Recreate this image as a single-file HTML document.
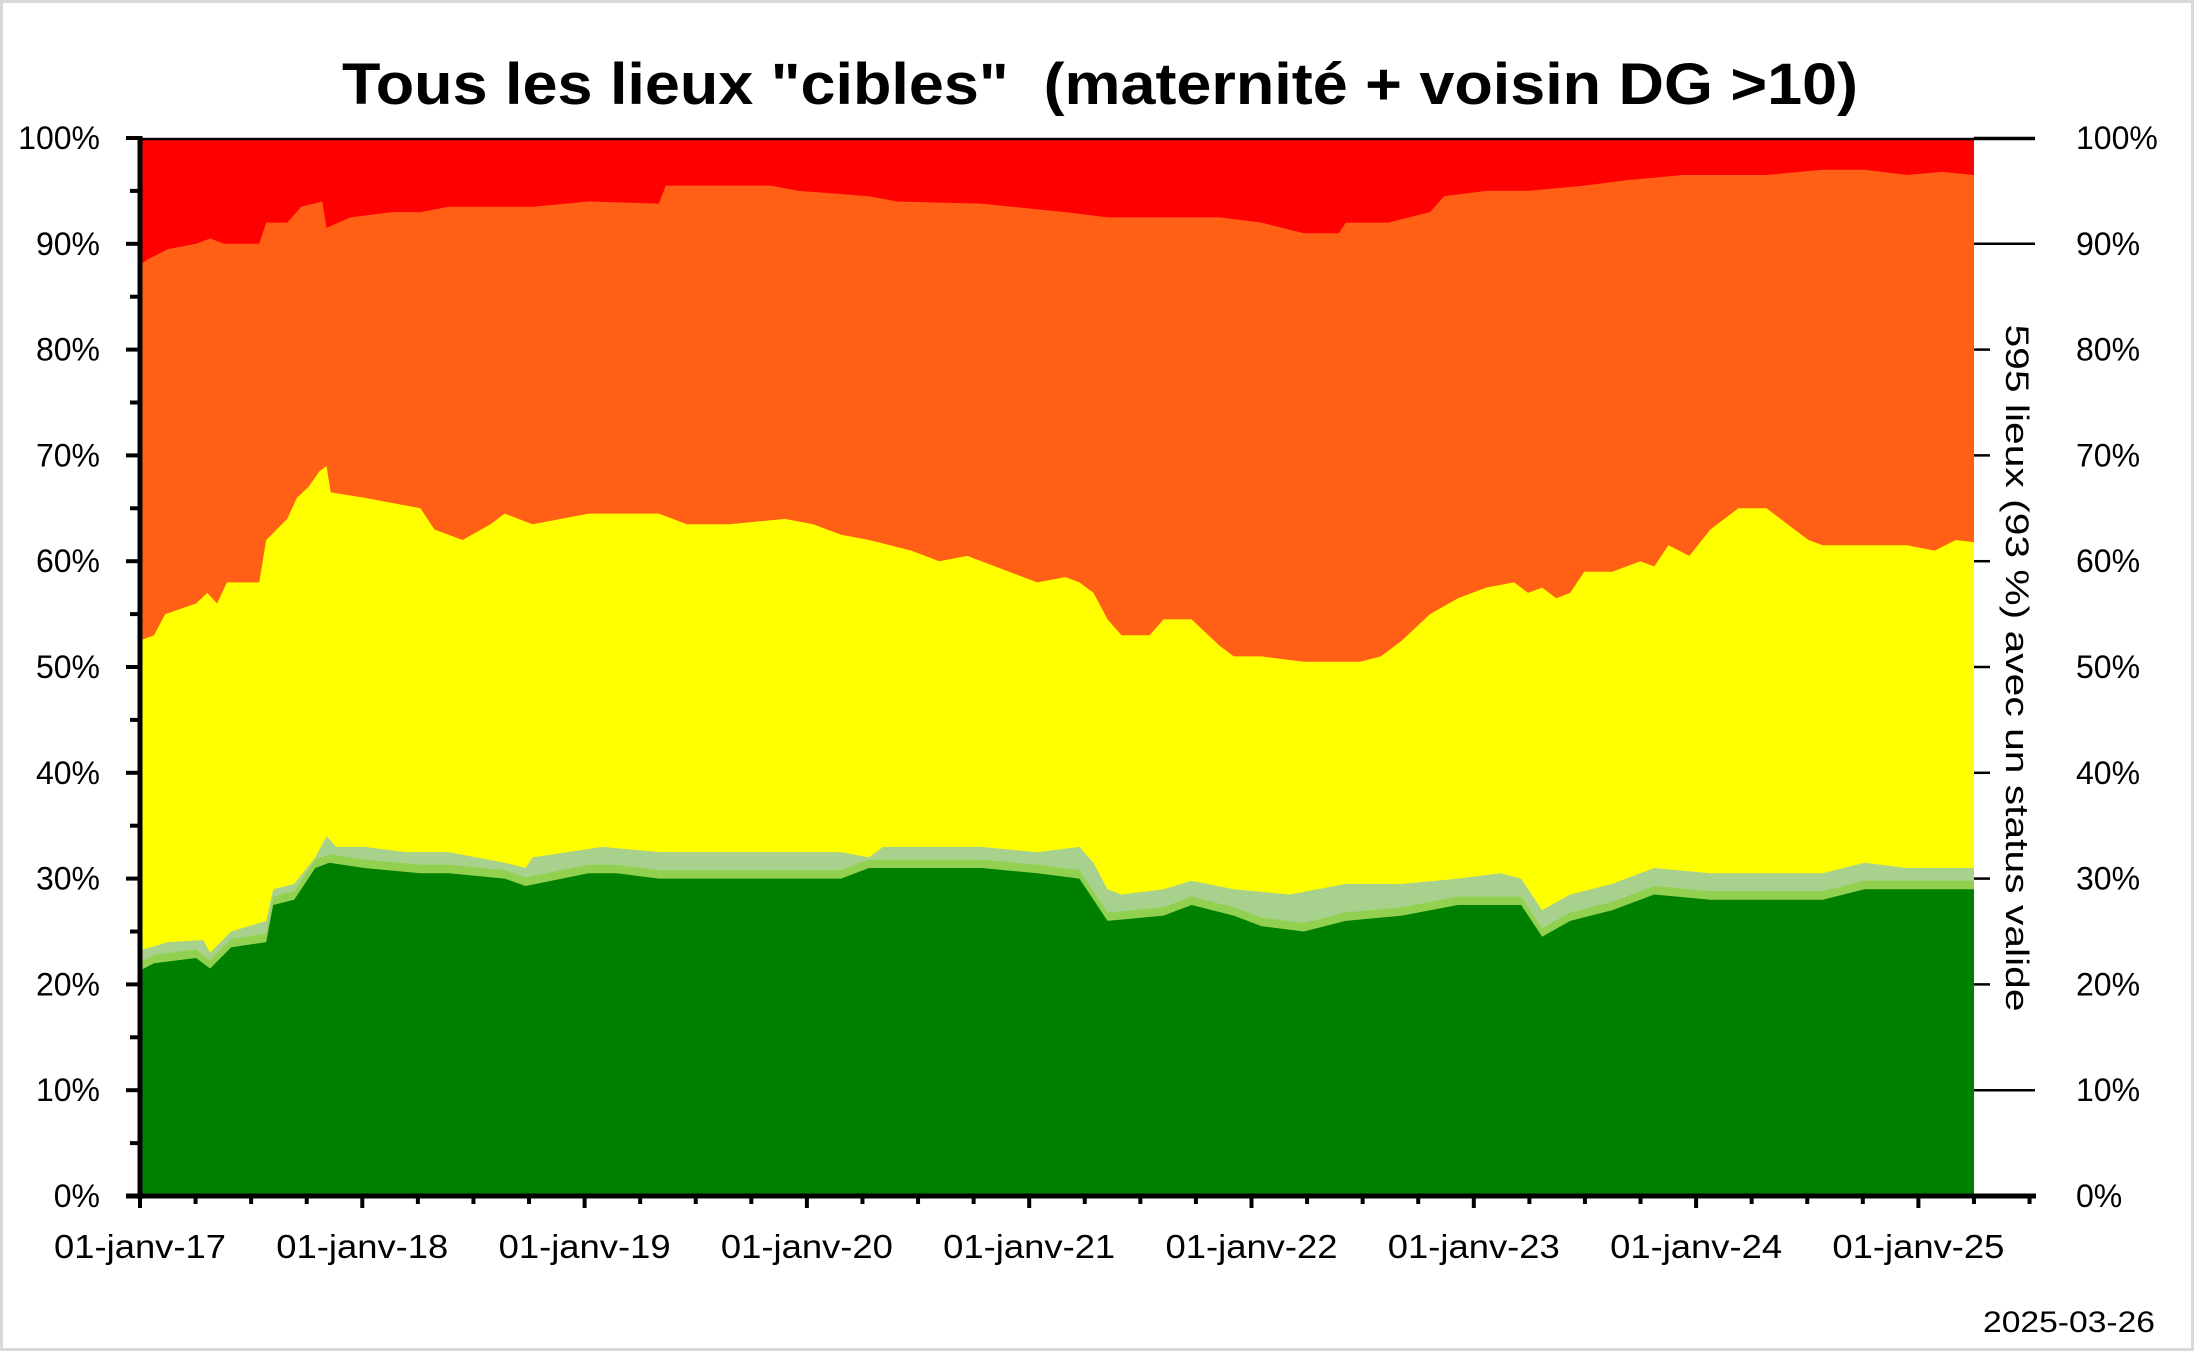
<!DOCTYPE html>
<html><head><meta charset="utf-8"><style>
html,body{margin:0;padding:0;background:#fff}
svg{display:block}
text{font-family:"Liberation Sans",sans-serif;fill:#000}
</style></head><body>
<svg id="s" width="2197" height="1353" viewBox="0 0 2197 1353" xmlns="http://www.w3.org/2000/svg">
<rect x="1.5" y="1.5" width="2191" height="1348" fill="#fff" stroke="#d9d9d9" stroke-width="3"/>
<g id="areas"></g>
<g id="axes"></g>
<text x="1100" y="104" text-anchor="middle" font-size="58" font-weight="bold" textLength="1516" lengthAdjust="spacingAndGlyphs" xml:space="preserve">Tous les lieux "cibles"&#160; (maternité + voisin DG &gt;10)</text>
<text x="2155" y="1332" text-anchor="end" font-size="30" textLength="172" lengthAdjust="spacingAndGlyphs">2025-03-26</text>
<text transform="translate(2006,668) rotate(90)" text-anchor="middle" font-size="32" textLength="687" lengthAdjust="spacingAndGlyphs">595 lieux (93 %) avec un status valide</text>
</svg>
<script>
const NS="http://www.w3.org/2000/svg";
const X=sx=>140+(sx-100)*1834/1308, Y=p=>1196-p*10.58;
const red=[[100,88],[105,88.5],[120,89.5],[140,90],[150,90.5],[160,90],[185,90],[190,92],[205,92],[215,93.5],[230,94],[233,91.5],[250,92.5],[280,93],[300,93],[320,93.5],[380,93.5],[420,94],[470,93.8],[475,95.5],[550,95.5],[570,95],[620,94.5],[640,94],[700,93.8],[760,93],[790,92.5],[870,92.5],[900,92],[930,91],[955,91],[960,92],[990,92],[1020,93],[1030,94.5],[1060,95],[1090,95],[1130,95.5],[1160,96],[1200,96.5],[1260,96.5],[1300,97],[1330,97],[1360,96.5],[1385,96.8],[1408,96.5]];
const orange=[[100,52.5],[110,53],[118,55],[140,56],[148,57],[155,56],[162,58],[185,58],[190,62],[205,64],[212,66],[220,67],[228,68.5],[233,69],[236,66.5],[260,66],[280,65.5],[300,65],[310,63],[330,62],[350,63.5],[360,64.5],[380,63.5],[420,64.5],[470,64.5],[490,63.5],[520,63.5],[560,64],[580,63.5],[600,62.5],[620,62],[650,61],[670,60],[690,60.5],[710,59.5],[740,58],[760,58.5],[770,58],[780,57],[790,54.5],[800,53],[820,53],[830,54.5],[850,54.5],[870,52],[880,51],[900,51],[930,50.5],[970,50.5],[985,51],[1000,52.5],[1020,55],[1040,56.5],[1060,57.5],[1080,58],[1090,57],[1100,57.5],[1110,56.5],[1120,57],[1130,59],[1150,59],[1170,60],[1180,59.5],[1190,61.5],[1205,60.5],[1220,63],[1240,65],[1260,65],[1275,63.5],[1290,62],[1300,61.5],[1320,61.5],[1360,61.5],[1380,61],[1395,62],[1408,61.8]];
const pale=[[100,23.2],[120,24],[145,24.2],[150,23],[165,25],[190,26],[195,29],[210,29.5],[225,32],[233,34],[240,33],[260,33],[290,32.5],[320,32.5],[360,31.5],[375,31],[380,32],[430,33],[470,32.5],[600,32.5],[620,32],[630,33],[700,33],[740,32.5],[770,33],[780,31.5],[790,29],[800,28.5],[830,29],[850,29.8],[880,29],[920,28.5],[960,29.5],[1000,29.5],[1040,30],[1070,30.5],[1085,30],[1100,27],[1120,28.5],[1150,29.5],[1180,31],[1220,30.5],[1260,30.5],[1300,30.5],[1330,31.5],[1360,31],[1408,31]];
const dark=[[100,21.3],[110,22],[140,22.5],[150,21.5],[165,23.5],[190,24],[195,27.5],[210,28],[225,31],[235,31.5],[260,31],[300,30.5],[320,30.5],[360,30],[375,29.3],[420,30.5],[440,30.5],[470,30],[600,30],[620,31],[700,31],[740,30.5],[770,30],[780,28],[790,26],[830,26.5],[850,27.5],[880,26.5],[900,25.5],[930,25],[960,26],[1000,26.5],[1040,27.5],[1085,27.5],[1100,24.5],[1120,26],[1150,27],[1180,28.5],[1220,28],[1260,28],[1300,28],[1330,29],[1408,29]];
const mid=dark.map(([x,p])=>[x,p+0.8]);
function area(top,col){let d=`M${X(100)},${Y(0)} `+top.map(([x,p])=>`L${X(x).toFixed(1)},${Y(p).toFixed(1)}`).join(' ')+` L${X(1408)},${Y(0)} Z`;
 const e=document.createElementNS(NS,'path');e.setAttribute('d',d);e.setAttribute('fill',col);document.getElementById('areas').appendChild(e);}
area([[100,100],[1408,100]],'#ff0000');area(red,'#ff6016');area(orange,'#ffff00');area(pale,'#a9d18e');area(mid,'#92d050');area(dark,'#008000');
const A=document.getElementById('axes');
function el(t,a,txt){const e=document.createElementNS(NS,t);for(const k in a)e.setAttribute(k,a[k]);if(txt)e.textContent=txt;A.appendChild(e);}
el('line',{x1:140,y1:139,x2:2035,y2:139,stroke:'#000','stroke-width':2.5});
for(let i=0;i<=20;i++){const y=1196-i*52.9,maj=i%2==0;
 el('line',{x1:maj?126:130,y1:y,x2:140,y2:y,stroke:'#000','stroke-width':4});
 if(maj){const v=i*5;const long=(v<=10||v>=90);
  el('line',{x1:1974,y1:y,x2:long?2035:1990,y2:y,stroke:'#000','stroke-width':2.5});
  el('text',{x:100,y:y+11,'text-anchor':'end','font-size':32},v+'%');
  el('text',{x:2076,y:y+11,'font-size':32},v+'%');}}
el('line',{x1:140,y1:136,x2:140,y2:1199,stroke:'#000','stroke-width':5});
el('line',{x1:126,y1:1196,x2:2036,y2:1196,stroke:'#000','stroke-width':5});
const yr=222.3;
for(let q=0;q<=34;q++){const x=140+q*yr/4,maj=q%4==0;
 el('line',{x1:x,y1:1196,x2:x,y2:maj?1208:1204,stroke:'#000','stroke-width':4});
 if(maj&&q/4<=8)el('text',{x:x,y:1258,'text-anchor':'middle','font-size':33,textLength:172,lengthAdjust:'spacingAndGlyphs'},'01-janv-'+(17+q/4));}
</script>
</body></html>
